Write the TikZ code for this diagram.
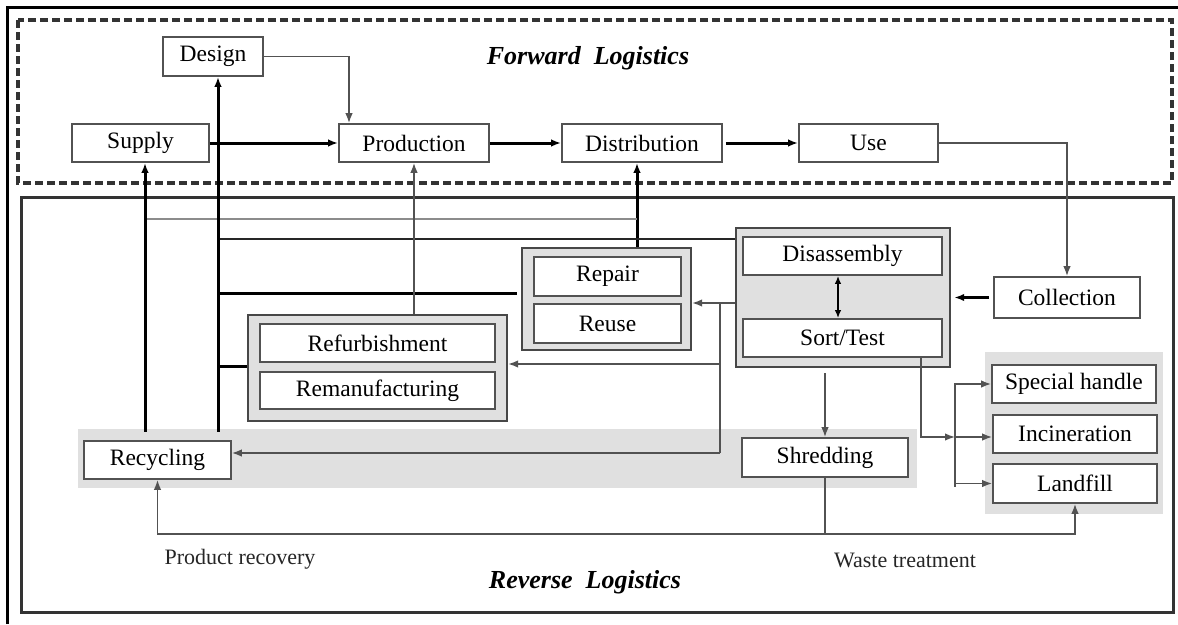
\documentclass[tikz,border=0pt]{standalone}
\usepackage{fontspec}
\setmainfont{Liberation Serif}
\usetikzlibrary{arrows.meta,calc}
\begin{document}
\begin{tikzpicture}[x=1pt,y=-1pt,
  box/.style={draw=black!68, line width=1.7pt, fill=white, inner sep=0pt, font=\fontsize{23.5}{25}\selectfont, minimum height=38pt},
  grp/.style={draw=black!72, line width=2.4pt, fill=black!12, inner sep=0pt},
  band/.style={fill=black!12, draw=none, inner sep=0pt},
  ln/.style={draw=black!68, line width=1.5pt},
  thk/.style={draw=black, line width=3pt},
  tip/.style={-{Latex[length=10pt,width=7.5pt]}},
  ttl/.style={font=\fontsize{26}{28}\selectfont\bfseries\itshape, inner sep=0pt},
  lbl/.style={font=\fontsize{22}{24}\selectfont, inner sep=0pt, text=black!85}
]
\useasboundingbox (0,0) rectangle (1178,624);
\fill[white] (0,0) rectangle (1178,624);

% frames
\draw[line width=3pt, black] (7,624) -- (7,7) -- (1178,7);
\draw[line width=3.2pt, black!80, dash pattern=on 8pt off 4pt] (18,20) rectangle (1172,183);
\draw[line width=3pt, black!80] (21,197) rectangle (1173,612);

% titles and labels
\node[ttl] (fl) at (588,58) {Forward\ \ Logistics};
\node[ttl] (rl) at (585,582) {Reverse\ \ Logistics};
\node[lbl] (pr) at (240,559) {Product recovery};
\node[lbl] (wt) at (905,560) {Waste treatment};

% gray backgrounds and groups
\node[band, minimum width=839pt, minimum height=59pt] (band) at (497.5,458.5) {};
\node[band, minimum width=178pt, minimum height=162pt] (wgroup) at (1074,433) {};
\node[grp, minimum width=214pt, minimum height=139pt] (dgroup) at (843,297.5) {};
\node[grp, minimum width=169pt, minimum height=102pt] (rgroup) at (606.5,299) {};
\node[grp, minimum width=259pt, minimum height=106pt] (fgroup) at (377.5,368) {};

% forward boxes
\node[box, minimum width=100pt, minimum height=39pt] (design) at (213,56.5) {Design};
\node[box, minimum width=137pt] (supply) at (140.5,143) {Supply};
\node[box, minimum width=150pt] (production) at (414,143) {Production};
\node[box, minimum width=160pt] (distribution) at (642,143) {Distribution};
\node[box, minimum width=139pt] (use) at (868.5,143) {Use};

% reverse boxes
\node[box, minimum width=146pt, minimum height=41pt] (collection) at (1067,297.5) {Collection};
\node[box, minimum width=199pt] (disassembly) at (842.5,256) {Disassembly};
\node[box, minimum width=199pt] (sorttest) at (842.5,338) {Sort/Test};
\node[box, minimum width=147pt, minimum height=39pt] (repair) at (607.5,276.5) {Repair};
\node[box, minimum width=147pt, minimum height=39pt] (reuse) at (607.5,323.5) {Reuse};
\node[box, minimum width=235pt] (refurb) at (377.5,343) {Refurbishment};
\node[box, minimum width=235pt, minimum height=37pt] (reman) at (377.5,390.5) {Remanufacturing};
\node[box, minimum width=147pt] (recycling) at (157.5,460) {Recycling};
\node[box, minimum width=166pt, minimum height=39pt] (shredding) at (825,457.5) {Shredding};
\node[box, minimum width=164pt] (special) at (1074,384) {Special handle};
\node[box, minimum width=164pt] (incineration) at (1075,434) {Incineration};
\node[box, minimum width=164pt, minimum height=39pt] (landfill) at (1075,483.5) {Landfill};

% helper coordinates
\coordinate (xS) at (145,0);
\coordinate (xD) at (218,0);
\coordinate (xT) at (637,0);
\coordinate (xQ) at (921,0);
\coordinate (xB) at (955,0);
\coordinate (y219) at (0,219);
\coordinate (y239) at (0,239);
\coordinate (y293) at (0,293);
\coordinate (y366) at (0,366);
\coordinate (y437) at (0,437);
\coordinate (j1) at (720,303);
\coordinate (j2) at (720,364);
\coordinate (j3) at (720,453);
\coordinate (j4) at (825,534);
\coordinate (st1) at (825,373);

% forward flow
\draw[ln,tip] (design.east) -| ($(production.north)+(-65,0)$);
\draw[thk,tip] (supply.east) -- (production.west);
\draw[thk,tip] (production.east) -- (distribution.west);
\draw[thk,tip,shorten <=3pt] (distribution.east) -- (use.west);
\draw[ln,tip] (use.east) -| (collection.north);

% reverse flow
\draw[thk,tip,shorten <=4pt,shorten >=3pt] (collection.west) -- (dgroup.east |- collection.west);
\draw[line width=2.4pt, black, {Latex[length=8pt,width=6.5pt]}-{Latex[length=8pt,width=6.5pt]}] ([xshift=-4.5pt]disassembly.south) -- ([xshift=-4.5pt]sorttest.north);
\draw[ln,tip] (dgroup.west |- j1) -- (rgroup.east |- j1);
\draw[ln] (j1) -- (j3);
\draw[ln,tip] (j2) -- (fgroup.east |- j2);
\draw[ln,tip] (j3) -- (recycling.east |- j3);

\draw[thk,tip] (rgroup.north -| xT) -- (distribution.south -| xT);
\draw[ln, draw=black!45] (xS |- y219) -- (xT |- y219);
\draw[ln, draw=black!85] (dgroup.west |- y239) -- (xD |- y239);
\draw[thk, shorten <=4pt] (rgroup.west |- y293) -- (xD |- y293);
\draw[thk] (fgroup.west |- y366) -- (xD |- y366);
\draw[thk,tip] ([yshift=-3pt]xD |- band.north) -- (design.south -| xD);
\draw[thk,tip] ([yshift=-3pt]xS |- band.north) -- (supply.south -| xS);
\draw[ln,tip] (fgroup.north -| production.south) -- (production.south);

\draw[ln,tip] (st1) -- (shredding.north);
\draw[ln,tip] (sorttest.south -| xQ) |- (xB |- y437);
\draw[ln] ([yshift=1pt]xB |- special.west) -- ([yshift=-3pt]xB |- landfill.west);
\draw[ln,tip] (xB |- special.west) -- (special.west);
\draw[ln,tip] (xB |- y437) -- (incineration.west |- y437);
\draw[ln,tip] (xB |- landfill.west) -- (landfill.west);

\draw[ln] (shredding.south) -- (j4);
\draw[ln,tip] (j4) -| (recycling.south);
\draw[ln,tip] (j4) -| (landfill.south);
\end{tikzpicture}
\end{document}
